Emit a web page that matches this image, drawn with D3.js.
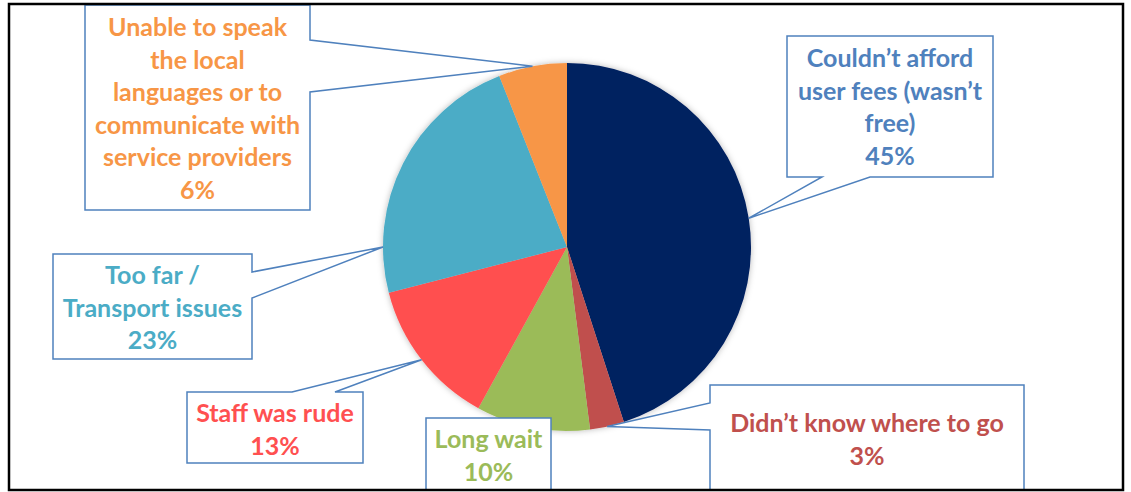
<!DOCTYPE html>
<html>
<head>
<meta charset="utf-8">
<script src="https://cdn.jsdelivr.net/npm/d3@7"></script>
<style>
  html, body { margin: 0; padding: 0; background: #ffffff; }
  svg { display: block; }
  text { font-family: Lato, "Open Sans", sans-serif; font-weight: 700; }
</style>
</head>
<body>
<svg id="chart" width="1131" height="492"></svg>
<script>
// ---- data ----
const categories = [
  "Couldn't afford user fees (wasn't free)",
  "Didn't know where to go",
  "Long wait",
  "Staff was rude",
  "Too far / Transport issues",
  "Unable to speak the local languages or to communicate with service providers"
];
const values = [45, 3, 10, 13, 23, 6];
const labelLines = [
  ["Couldn\u2019t afford", "user fees (wasn\u2019t", "free)"],
  ["Didn\u2019t know where to go"],
  ["Long wait"],
  ["Staff was rude"],
  ["Too far /", "Transport issues"],
  ["Unable to speak", "the local", "languages or to", "communicate with", "service providers"]
];
const sliceColors = ["#002060", "#C0504D", "#9BBB59", "#FF5050", "#4BACC6", "#F79646"];
const textColors  = ["#4F81BD", "#C0504D", "#9BBB59", "#FF5050", "#4BACC6", "#F79646"];

// ---- layout (callout boxes) ----
const callouts = [
  { box: [787, 36, 993, 177], side: "bottom", base: [822, 870], anchor: 0.5, textY: 67, cx: 890 },
  { box: [710, 385, 1024, 500], side: "left", base: [403, 430], anchor: 0.5, textY: 432, cx: 867 },
  { box: [426, 418, 551, 500], side: "none", base: null, anchor: 0.5, textY: 448, cx: 488.5 },
  { box: [187, 392, 363, 463], side: "top", base: [292, 335], anchor: 0.5, textY: 422, cx: 275 },
  { box: [53, 254, 252, 359], side: "right", base: [272, 298], anchor: 0.174, textY: 284, cx: 152.5 },
  { box: [85, 5, 310, 210], side: "right", base: [40, 92], anchor: 0.5, textY: 36, cx: 197.5 }
];

const W = 1131, H = 492;
const cx = 567, cy = 247, R = 184;
const lineH = 32.5;

const svg = d3.select("#chart");
const defs = svg.append("defs");
const f = defs.append("filter").attr("id", "shadow")
  .attr("x", "-10%").attr("y", "-10%").attr("width", "120%").attr("height", "120%");
f.append("feDropShadow").attr("dx", 0).attr("dy", 0).attr("stdDeviation", 3)
  .attr("flood-color", "#000").attr("flood-opacity", 0.28);
defs.append("clipPath").attr("id", "frameClip")
  .append("rect").attr("x", 9).attr("y", 4).attr("width", 1114).attr("height", 486);

const root = svg.append("g").attr("clip-path", "url(#frameClip)");

const pie = d3.pie().sort(null).value(d => d)(values);
const arc = d3.arc().innerRadius(0).outerRadius(R);

const pieG = root.append("g").attr("transform", `translate(${cx},${cy})`);
pieG.append("g").attr("filter", "url(#shadow)")
  .selectAll("path").data(pie).join("path")
  .attr("d", arc)
  .attr("fill", (d, i) => sliceColors[i]);

function tipPoint(d, frac) {
  const a = d.startAngle + (d.endAngle - d.startAngle) * frac;
  return [cx + R * Math.sin(a), cy - R * Math.cos(a)];
}

function calloutPath(c, tip) {
  const [x0, y0, x1, y1] = c.box;
  const p = d3.path();
  p.moveTo(x0, y0);
  if (c.side === "top") { p.lineTo(c.base[0], y0); p.lineTo(tip[0], tip[1]); p.lineTo(c.base[1], y0); }
  p.lineTo(x1, y0);
  if (c.side === "right") { p.lineTo(x1, c.base[0]); p.lineTo(tip[0], tip[1]); p.lineTo(x1, c.base[1]); }
  p.lineTo(x1, y1);
  if (c.side === "bottom") { p.lineTo(c.base[1], y1); p.lineTo(tip[0], tip[1]); p.lineTo(c.base[0], y1); }
  p.lineTo(x0, y1);
  if (c.side === "left") { p.lineTo(x0, c.base[1]); p.lineTo(tip[0], tip[1]); p.lineTo(x0, c.base[0]); }
  p.closePath();
  return p.toString();
}

const cg = root.append("g");
pie.forEach((d, i) => {
  const c = callouts[i];
  const tip = tipPoint(d, c.anchor);
  const g = cg.append("g");
  g.append("path")
    .attr("d", calloutPath(c, tip))
    .attr("fill", "#ffffff")
    .attr("stroke", "#4F81BD")
    .attr("stroke-width", 1.5)
    .attr("stroke-linejoin", "miter");
  const lines = labelLines[i].concat([d3.format(".0f")(values[i]) + "%"]);
  g.selectAll("text").data(lines).join("text")
    .attr("x", c.cx)
    .attr("y", (t, k) => c.textY + k * lineH)
    .attr("text-anchor", "middle")
    .attr("font-size", 25)
    .attr("fill", textColors[i])
    .text(t => t);
});

// outer frame
svg.append("rect").attr("x", 9).attr("y", 4).attr("width", 1114).attr("height", 486)
  .attr("fill", "none").attr("stroke", "#000").attr("stroke-width", 2.5);
</script>
</body>
</html>
